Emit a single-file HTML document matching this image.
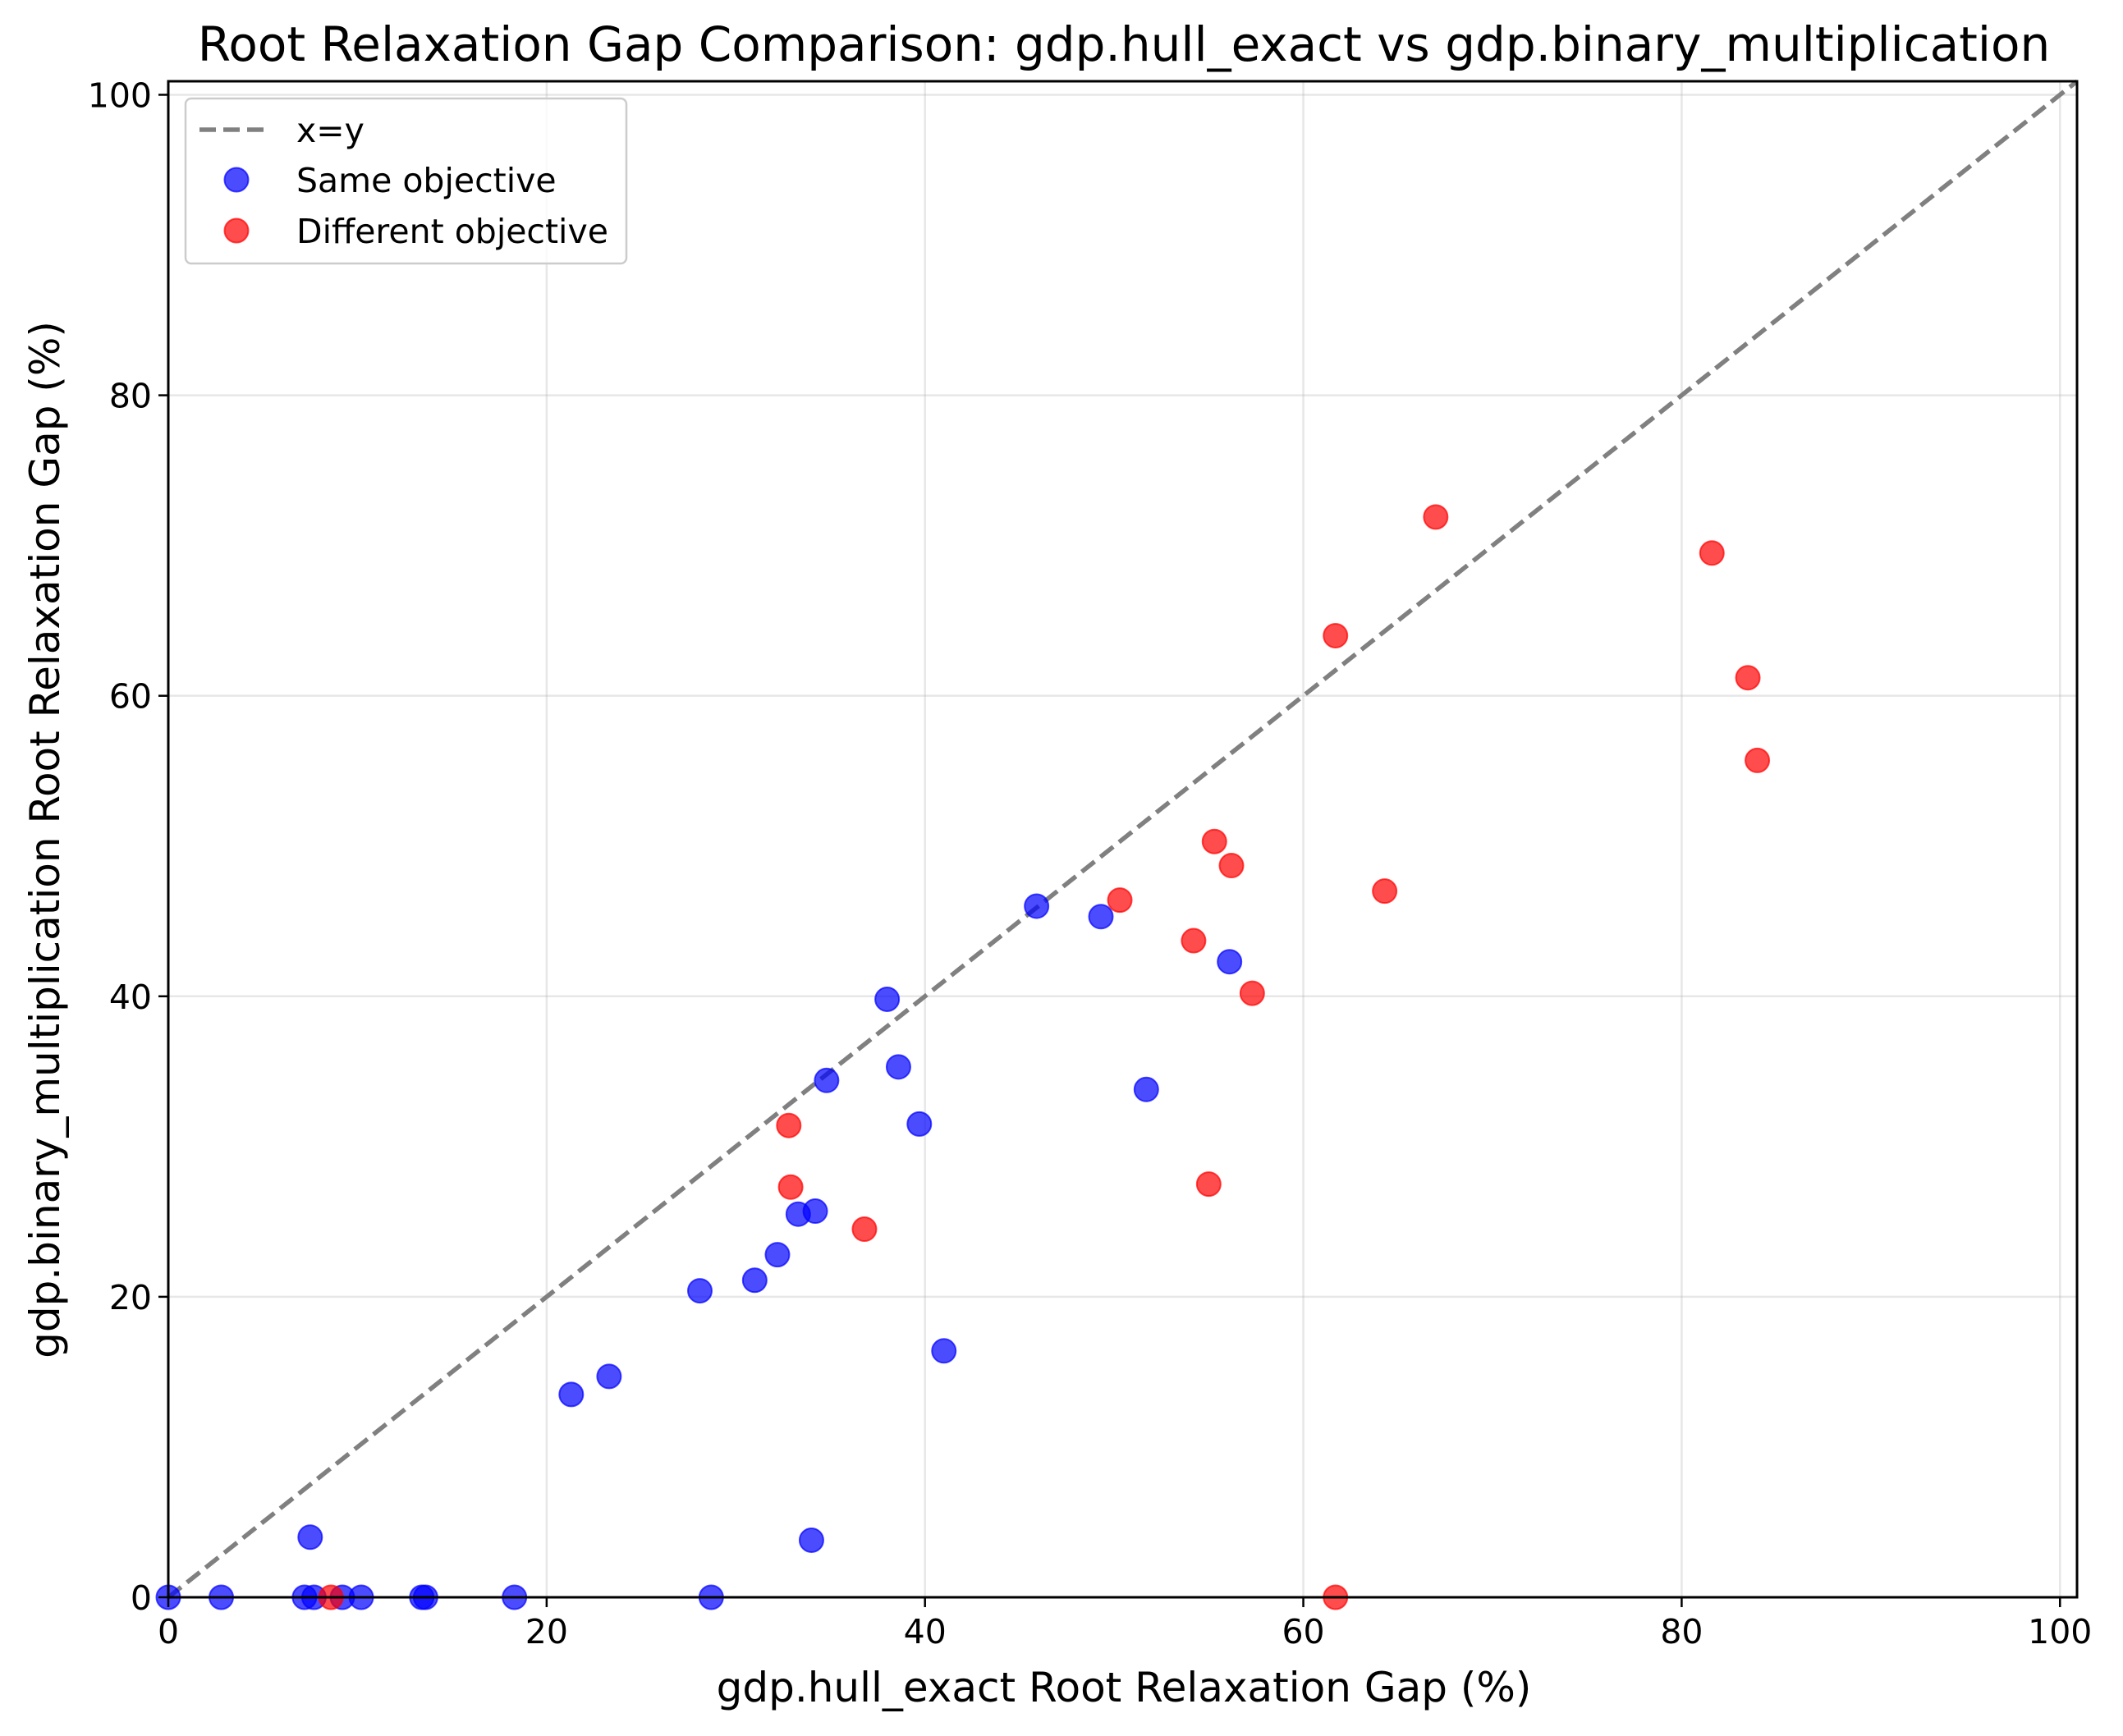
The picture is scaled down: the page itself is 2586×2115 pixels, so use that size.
<!DOCTYPE html>
<html><head><meta charset="utf-8">
<style>
html,body{margin:0;padding:0;background:#fff;}
svg{display:block;font-family:"DejaVu Sans","Liberation Sans",sans-serif;}
</style></head>
<body>
<svg id="chart" width="2586" height="2115" viewBox="0 0 2586 2115" xmlns="http://www.w3.org/2000/svg">
<text x="1369" y="74" font-size="58" text-anchor="middle">Root Relaxation Gap Comparison: gdp.hull_exact vs gdp.binary_multiplication</text>
<g id="grid"></g>
<g id="diag"></g>
<g id="points"></g>
<rect x="205" y="99" width="2325" height="1847" fill="none" stroke="#000" stroke-width="3"/>
<g id="ticks"></g>
<text x="1369" y="2073" font-size="50" text-anchor="middle">gdp.hull_exact Root Relaxation Gap (%)</text>
<text x="0" y="0" font-size="50" text-anchor="middle" transform="translate(72,1023) rotate(-90)">gdp.binary_multiplication Root Relaxation Gap (%)</text>
<g>
<rect x="226" y="120" width="537" height="201" rx="7" fill="#fff" fill-opacity="0.8" stroke="#ccc" stroke-width="2.5"/>
<line x1="243" y1="158" x2="326" y2="158" stroke="#808080" stroke-width="5.5" stroke-dasharray="20,9"/>
<text x="361" y="173" font-size="41">x=y</text>
<circle cx="288" cy="219" r="14.5" fill="rgba(0,0,255,0.7)" stroke="rgba(0,0,255,0.7)" stroke-width="2"/>
<text x="361" y="234" font-size="41">Same objective</text>
<circle cx="288" cy="281" r="14.5" fill="rgba(255,0,0,0.7)" stroke="rgba(255,0,0,0.7)" stroke-width="2"/>
<text x="361" y="296" font-size="41">Different objective</text>
</g>
</svg>
<script>
const tickValues = [0, 20, 40, 60, 80, 100];
const tickLabels = ["0", "20", "40", "60", "80", "100"];
const sameX = [7.5,34.0,41.0,21.3,23.3,28.1,31.0,32.2,33.3,34.2,34.8,38.6,39.7,38.0,45.9,49.3,56.1,51.7,0,2.8,7.2,7.7,9.2,10.2,13.4,13.6,18.3,28.7];
const sameY = [4.0,3.8,16.4,13.5,14.7,20.4,21.1,22.8,25.5,25.7,34.4,35.3,31.5,39.8,46.0,45.3,42.3,33.8,0,0,0,0,0,0,0,0,0,0];
const diffX = [8.6,32.8,32.9,36.8,50.3,54.2,55.3,56.2,55.0,57.3,61.7,61.7,64.3,67.0,81.6,83.5,84.0];
const diffY = [0,31.4,27.3,24.5,46.4,43.7,50.3,48.7,27.5,40.2,64.0,0,47.0,71.9,69.5,61.2,55.7];
const NS="http://www.w3.org/2000/svg";
const L=205,R=2530,T=99,B=1946,MAX=100.9;
function sx(v){return L+v*(R-L)/MAX;}
function sy(v){return B-v*(B-T)/MAX;}
function mk(tag,attrs,parent){const e=document.createElementNS(NS,tag);for(const k in attrs)e.setAttribute(k,attrs[k]);parent.appendChild(e);return e;}
const grid=document.getElementById('grid'),ticks=document.getElementById('ticks');
tickValues.forEach((v,i)=>{
  const gx=mk('line',{x1:sx(v),x2:sx(v),y1:T,y2:B,stroke:'#b0b0b0','stroke-opacity':0.3,'stroke-width':2.5},grid);
  
  
  const gy=mk('line',{x1:L,x2:R,y1:sy(v),y2:sy(v),stroke:'#b0b0b0','stroke-opacity':0.3,'stroke-width':2.5},grid);
  
  
  const tx=mk('line',{x1:sx(v),x2:sx(v),y1:B,y2:B+12,stroke:'#000','stroke-width':2.5},ticks);
  
  
  const lx=mk('text',{x:sx(v),y:B+56,'font-size':41,'text-anchor':'middle'},ticks);
  lx.textContent=tickLabels[i];
  
  
  const ty=mk('line',{x1:L-12,x2:L,y1:sy(v),y2:sy(v),stroke:'#000','stroke-width':2.5},ticks);
  
  
  const ly=mk('text',{x:L-20,y:sy(v)+15,'font-size':41,'text-anchor':'end'},ticks);
  ly.textContent=tickLabels[i];
  
  
});
const d=mk('line',{x1:sx(0),y1:sy(0),x2:sx(MAX),y2:sy(MAX),stroke:'#808080','stroke-width':5.5,'stroke-dasharray':'20,9'},document.getElementById('diag'));


const pts=document.getElementById('points');
sameX.forEach((x,i)=>{
  const c=mk('circle',{cx:sx(x),cy:sy(sameY[i]),r:14.5,fill:'rgba(0,0,255,0.7)',stroke:'rgba(0,0,255,0.7)','stroke-width':2},pts);
  
  
});
diffX.forEach((x,i)=>{
  const c=mk('circle',{cx:sx(x),cy:sy(diffY[i]),r:14.5,fill:'rgba(255,0,0,0.7)',stroke:'rgba(255,0,0,0.7)','stroke-width':2},pts);
  
  
});
</script>
</body></html>
